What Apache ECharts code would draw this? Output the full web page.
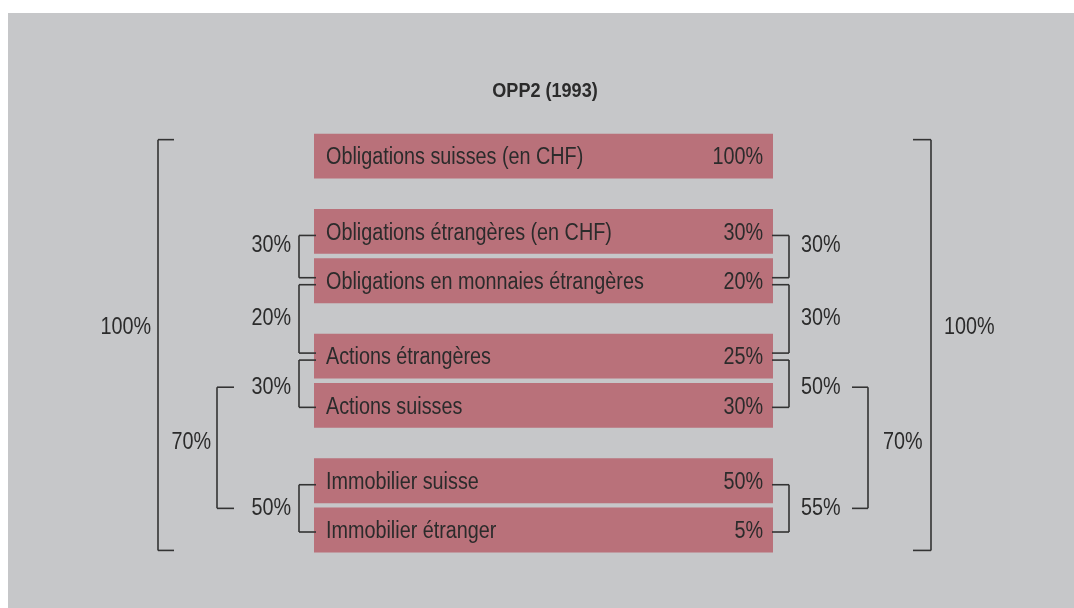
<!DOCTYPE html>
<html>
<head>
<meta charset="utf-8">
<script src="https://cdn.jsdelivr.net/npm/echarts@6/dist/echarts.min.js"></script>
<style>
html,body{margin:0;padding:0;background:#fff;}
#chart{width:1074px;height:608px;}
</style>
</head>
<body>
<div id="chart"></div>
<script>
// ---------- DATA ----------
const boxLabels = [
  'Obligations suisses (en CHF)',
  'Obligations étrangères (en CHF)',
  'Obligations en monnaies étrangères',
  'Actions étrangères',
  'Actions suisses',
  'Immobilier suisse',
  'Immobilier étranger'
];
const boxValues = [100, 30, 20, 25, 30, 50, 5];
const boxGroups = [0, 1, 1, 2, 2, 3, 3];

// inner brackets (join two boxes)
const leftFrom = [1, 2, 3, 5];
const leftTo = [2, 3, 4, 6];
const leftShares = [30, 20, 30, 50];
const rightFrom = [1, 2, 3, 5];
const rightTo = [2, 3, 4, 6];
const rightShares = [30, 30, 50, 55];

// outer brackets
const outerLeftJoin = [2, 3];   // joins left inner brackets 2 and 3
const outerLeftShare = 70;
const outerRightJoin = [2, 3];  // joins right inner brackets 2 and 3
const outerRightShare = 70;
const totalShare = 100;

const titleText = 'OPP2 (1993)';

// ---------- LAYOUT / STYLE ----------
const GROUP_GAP = 0.53;
const BOX_H = 0.91;
const FONT = '"Liberation Sans", Arial, sans-serif';
const SX = 0.86;
const TXT = '#2b2b2b';
const LINE = '#333333';
const LW = 1.6;
const BOX_COLOR = '#b9717a';
const labelNudge = [-11, 0, 3.5, 0];

function rowPos(i) { return i + boxGroups[i] * GROUP_GAP; }
const pct = v => v + '%';

function txt(x, y, text, align, opts) {
  opts = opts || {};
  return {
    type: 'text', x: x, y: y, scaleX: SX,
    style: {
      text: text, textAlign: align, textVerticalAlign: 'middle',
      font: (opts.weight || 'normal') + ' ' + (opts.size || 23) + 'px ' + FONT,
      fill: TXT
    }
  };
}
function seg(x1, y1, x2, y2) {
  return { type: 'line', shape: { x1: x1, y1: y1, x2: x2, y2: y2 },
    style: { stroke: LINE, lineWidth: LW } };
}

function innerGeom(api, side, k) {
  const from = side === 'L' ? leftFrom : rightFrom;
  const to = side === 'L' ? leftTo : rightTo;
  const a = from[k], b = to[k];
  const yA = api.coord([0, rowPos(a)])[1] + 4;
  const shared = from.indexOf(b) >= 0;
  const yB = api.coord([0, rowPos(b)])[1] + (shared ? -3 : 2);
  return { yA: yA, yB: yB, yL: (yA + yB) / 2 + labelNudge[k] };
}

const boxData = boxLabels.map((l, i) => [0, rowPos(i), boxValues[i], i]);
const innerData = leftFrom.map((f, k) => [0, rowPos(f), k]);

const chart = echarts.init(document.getElementById('chart'), null, { renderer: 'canvas' });

chart.setOption({
  animation: false,
  backgroundColor: '#ffffff',
  graphic: [
    { type: 'rect', left: 8, top: 13, shape: { width: 1066, height: 595 },
      style: { fill: '#c6c7c9' }, z: -10, silent: true },
    { type: 'text', x: 545, y: 91, scaleX: 0.86, z: 10,
      style: { text: titleText, textAlign: 'center', textVerticalAlign: 'middle',
        font: 'bold 21px ' + FONT, fill: TXT } }
  ],
  grid: { left: 314, right: 301, top: 106.8, bottom: 57.8 },
  xAxis: { type: 'value', min: 0, max: 100, show: false },
  yAxis: { type: 'value', min: -1, max: 8, inverse: true, show: false },
  series: [
    {
      type: 'custom', name: 'boxes', clip: false,
      encode: { x: 0, y: 1 },
      data: boxData,
      renderItem: function (params, api) {
        const i = api.value(3);
        const r = api.value(1);
        const p0 = api.coord([0, r]);
        const p1 = api.coord([100, r]);
        const h = api.size([0, BOX_H])[1];
        return { type: 'group', children: [
          { type: 'rect', shape: { x: p0[0], y: p0[1] - h / 2, width: p1[0] - p0[0], height: h },
            style: { fill: BOX_COLOR } },
          txt(p0[0] + 12, p0[1] + 2, boxLabels[i], 'left'),
          txt(p1[0] - 10, p0[1] + 2, pct(api.value(2)), 'right')
        ] };
      }
    },
    {
      type: 'custom', name: 'inner brackets', clip: false,
      encode: { x: 0, y: 1 },
      data: innerData,
      renderItem: function (params, api) {
        const k = api.value(2);
        const xL = api.coord([0, 0])[0];
        const xR = api.coord([100, 0])[0];
        const gl = innerGeom(api, 'L', k);
        const gr = innerGeom(api, 'R', k);
        const vl = xL - 15, vr = xR + 16;
        return { type: 'group', children: [
          seg(xL + 2, gl.yA, vl, gl.yA), seg(vl, gl.yA, vl, gl.yB), seg(vl, gl.yB, xL + 2, gl.yB),
          txt(vl - 8, gl.yL, pct(leftShares[k]), 'right'),
          seg(xR - 1, gr.yA, vr, gr.yA), seg(vr, gr.yA, vr, gr.yB), seg(vr, gr.yB, xR - 1, gr.yB),
          txt(vr + 12, gr.yL, pct(rightShares[k]), 'left')
        ] };
      }
    },
    {
      type: 'custom', name: 'outer brackets', clip: false,
      encode: { x: 0, y: 1 },
      data: [[0, rowPos(0)]],
      renderItem: function (params, api) {
        const xL = api.coord([0, 0])[0];
        const xR = api.coord([100, 0])[0];
        const h = api.size([0, BOX_H])[1];
        // 70% brackets join the labels of two inner brackets
        const la = innerGeom(api, 'L', outerLeftJoin[0]).yL;
        const lb = innerGeom(api, 'L', outerLeftJoin[1]).yL;
        const ra = innerGeom(api, 'R', outerRightJoin[0]).yL;
        const rb = innerGeom(api, 'R', outerRightJoin[1]).yL;
        const vl70 = xL - 97, vr70 = xR + 95;
        // 100% brackets span all boxes
        const top = api.coord([0, rowPos(0)])[1] - h / 2 + 6;
        const bot = api.coord([0, rowPos(boxLabels.length - 1)])[1] + h / 2 - 2;
        const vl100 = xL - 156, vr100 = xR + 158;
        return { type: 'group', children: [
          seg(vl70 + 17, la, vl70, la), seg(vl70, la, vl70, lb), seg(vl70, lb, vl70 + 17, lb),
          txt(vl70 - 6, (la + lb) / 2 - 5, pct(outerLeftShare), 'right'),
          seg(vr70 - 16, ra, vr70, ra), seg(vr70, ra, vr70, rb), seg(vr70, rb, vr70 - 16, rb),
          txt(vr70 + 15, (ra + rb) / 2 - 5, pct(outerRightShare), 'left'),
          seg(vl100 + 16, top, vl100, top), seg(vl100, top, vl100, bot), seg(vl100, bot, vl100 + 16, bot),
          txt(vl100 - 7, (top + bot) / 2 - 17, pct(totalShare), 'right'),
          seg(vr100 - 18, top, vr100, top), seg(vr100, top, vr100, bot), seg(vr100, bot, vr100 - 18, bot),
          txt(vr100 + 13, (top + bot) / 2 - 17, pct(totalShare), 'left')
        ] };
      }
    }
  ]
});
</script>
</body>
</html>
